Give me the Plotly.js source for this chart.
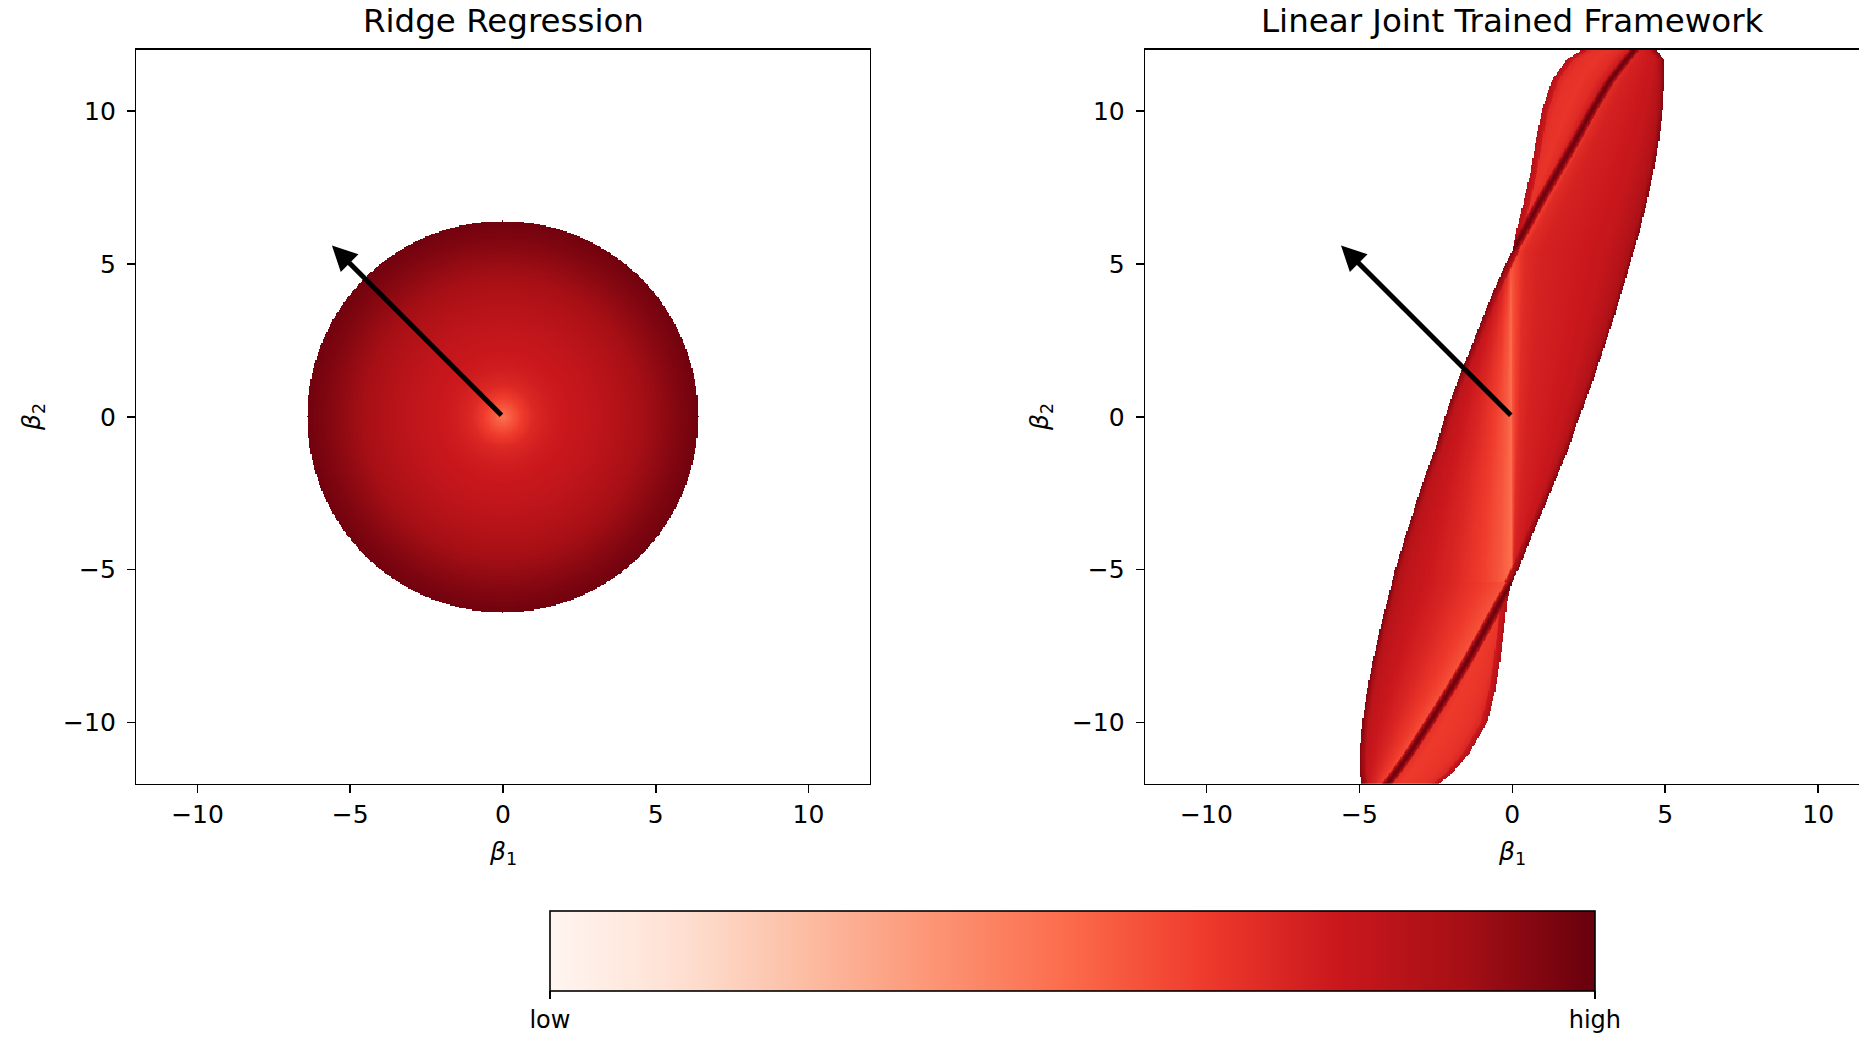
<!DOCTYPE html>
<html>
<head>
<meta charset="utf-8">
<script src="https://cdn.plot.ly/plotly-3.0.1.min.js"></script>
<style>
html, body { margin: 0; padding: 0; overflow: hidden; background: #ffffff; }
#chart { width: 1900px; height: 1037px; }
</style>
</head>
<body>
<div id="chart"></div>
<script>
// ---------------- data ----------------
const panelTitles = ["Ridge Regression", "Linear Joint Trained Framework"];
const axisRange = [-12, 12];
const tickVals = [-10, -5, 0, 5, 10];
const colorbarTickVals = [0, 1];
const colorbarTickText = ["low", "high"];

// matplotlib "Reds" colour map stops
const redsStops = [0, 0.125, 0.25, 0.375, 0.5, 0.625, 0.75, 0.875, 1];
const redsColors = ["#fff5f0", "#fee0d2", "#fcbba1", "#fc9272", "#fb6a4a", "#ef3b2c", "#cb181d", "#a50f15", "#67000d"];

// arrow (same in both panels): tail at origin, head tip
const arrowTail = [0, 0];
const arrowTip = [-5.6, 5.6];

// Ridge regression: disc radius and radial colour profile (level 0..1)
const ridgeRadius = 6.4;
const ridgeProfileR =     [0,    0.3,  0.6,  1.0,  1.5,  2.2,  3.0,  4.0,  5.0,  5.8,  6.4];
const ridgeProfileLevel = [0.48, 0.55, 0.62, 0.69, 0.73, 0.76, 0.79, 0.84, 0.90, 0.95, 0.98];

// Linear joint trained framework: outline rows
const bodyRowsY =  [-12, -11.7, -11, -10, -9, -8, -7, -6, -5.4, -5, -4, -3, -2, -1, 0, 1, 2, 3, 4, 5, 5.4, 6, 7, 8, 9, 10, 11, 11.7, 12];
const bodyLeftX =  [-4.92, -4.97, -4.99, -4.9, -4.75, -4.56, -4.33, -4.08, -3.93, -3.83, -3.52, -3.2, -2.88, -2.5, -2.2, -1.85, -1.45, -1.06, -0.66, -0.22, 0.0, 0.35, 0.9, 1.48, 2.05, 2.6, 3.2, 3.75, 4.0];
const bodyRightX = [-4.09, -3.85, -3.35, -2.7, -2.07, -1.47, -0.91, -0.36, 0.0, 0.2, 0.6, 1.03, 1.45, 1.86, 2.2, 2.58, 2.92, 3.25, 3.56, 3.86, 3.97, 4.15, 4.4, 4.62, 4.8, 4.92, 4.98, 4.96, 4.7];
const upperLobeY =     [5.4, 6, 7, 8, 9, 10, 11, 11.7, 12];
const upperLobeLeftX = [0.0, 0.12, 0.37, 0.6, 0.77, 0.97, 1.3, 1.8, 2.3];
const lowerLobeY =      [-12, -11.7, -11, -10, -9, -8, -7, -6, -5.4];
const lowerLobeRightX = [-2.4, -2.0, -1.4, -0.82, -0.56, -0.4, -0.27, -0.16, 0.0];
const creaseStartY = 5.4;   // creases start at (0, ±5.4)
const streakX = 0;          // bright streak along beta1 = 0

// colour level across each strip (u = 0 at strip's left side, 1 at right side)
const stripU =                 [0,    0.1,  0.25, 0.5,  0.75, 0.9,  1];
const levelBodyLeftOfStreak  = [0.86, 0.80, 0.76, 0.70, 0.62, 0.55, 0.48];
const levelBodyRightOfStreak = [0.56, 0.68, 0.72, 0.74, 0.77, 0.82, 0.88];
const levelUpperBody         = [0.56, 0.68, 0.72, 0.74, 0.77, 0.82, 0.88];
const levelUpperLobe         = [0.78, 0.70, 0.66, 0.65, 0.68, 0.74, 0.82];
const levelLowerBody         = [0.86, 0.80, 0.76, 0.70, 0.63, 0.58, 0.54];
const levelLowerLobe         = [0.80, 0.66, 0.63, 0.64, 0.66, 0.70, 0.76];
// darkening near outer edges and creases, by distance in beta units
const edgeDist =      [0, 0.08, 0.2, 0.4];
const edgeLevel =     [0.95, 0.90, 0.82, 0];
const lobeEdgeLevel = [0.84, 0.80, 0.74, 0];
const creaseDist =    [0, 0.07, 0.15, 0.35];
const creaseLevel =   [0.99, 0.95, 0.84, 0];

// ---------------- helpers ----------------
function lookup(xa, ya, v) {
  if (v <= xa[0]) return ya[0];
  for (let k = 1; k < xa.length; k++) {
    if (v <= xa[k]) {
      const t = (v - xa[k - 1]) / (xa[k] - xa[k - 1]);
      return ya[k - 1] + t * (ya[k] - ya[k - 1]);
    }
  }
  return ya[ya.length - 1];
}
function stripLevel(profile, x, a, b) {
  const w = b - a;
  const u = w > 1e-9 ? (x - a) / w : 0.5;
  return lookup(stripU, profile, u);
}

const gridN = 601;
const grid = [];
for (let i = 0; i < gridN; i++) grid.push(axisRange[0] + i * (axisRange[1] - axisRange[0]) / (gridN - 1));

// Ridge panel
const zRidge = grid.map(y => grid.map(x => {
  const r = Math.hypot(x, y);
  return r <= ridgeRadius ? lookup(ridgeProfileR, ridgeProfileLevel, r) : null;
}));

// Joint panel
const zJoint = grid.map(y => {
  const L = lookup(bodyRowsY, bodyLeftX, y);
  const R = lookup(bodyRowsY, bodyRightX, y);
  const upper = y > creaseStartY, lower = y < -creaseStartY;
  const lobeL = upper ? lookup(upperLobeY, upperLobeLeftX, y) : null;
  const lobeR = lower ? lookup(lowerLobeY, lowerLobeRightX, y) : null;
  return grid.map(x => {
    if (upper) {
      if (x >= lobeL && x < L) {
        const base = stripLevel(levelUpperLobe, x, lobeL, L);
        return Math.max(base, lookup(edgeDist, lobeEdgeLevel, x - lobeL), lookup(creaseDist, creaseLevel, L - x));
      }
      if (x >= L && x <= R) {
        const base = stripLevel(levelUpperBody, x, L, R);
        return Math.max(base, lookup(creaseDist, creaseLevel, x - L), lookup(edgeDist, edgeLevel, R - x));
      }
      return null;
    }
    if (lower) {
      if (x >= L && x <= R) {
        const base = stripLevel(levelLowerBody, x, L, R);
        return Math.max(base, lookup(edgeDist, edgeLevel, x - L), lookup(creaseDist, creaseLevel, R - x));
      }
      if (x > R && x <= lobeR) {
        const base = stripLevel(levelLowerLobe, x, R, lobeR);
        return Math.max(base, lookup(creaseDist, creaseLevel, x - R), lookup(edgeDist, lobeEdgeLevel, lobeR - x));
      }
      return null;
    }
    if (x >= L && x <= R) {
      const base = x < streakX ? stripLevel(levelBodyLeftOfStreak, x, L, streakX)
                               : stripLevel(levelBodyRightOfStreak, x, streakX, R);
      return Math.max(base, lookup(edgeDist, edgeLevel, x - L), lookup(edgeDist, edgeLevel, R - x));
    }
    return null;
  });
});

// ---------------- layout geometry ----------------
const W = 1900, H = 1037;
const px = v => v / W, py = v => 1 - v / H;
const xDom1 = [px(136.4), px(869.6)];
const xDom2 = [px(1145.3), px(1879.3)];
const yDom = [py(783.7), py(49.8)];

const colorscale = redsStops.map((s, i) => [s, redsColors[i]]);

const traces = [
  { type: 'heatmap', x: grid, y: grid, z: zRidge, coloraxis: 'coloraxis', zsmooth: false,
    hoverinfo: 'skip', xaxis: 'x', yaxis: 'y' },
  { type: 'heatmap', x: grid, y: grid, z: zJoint, coloraxis: 'coloraxis', zsmooth: false,
    hoverinfo: 'skip', xaxis: 'x2', yaxis: 'y2' }
];

function axis(domain, anchor, standoff) {
  return {
    domain: domain, anchor: anchor, range: axisRange.slice(),
    tickmode: 'array', tickvals: tickVals,
    ticks: 'outside', ticklen: 8, tickwidth: 1.6, tickcolor: '#000',
    ticklabelstandoff: standoff,
    showline: true, mirror: true, linecolor: '#000', linewidth: 1.6,
    showgrid: false, zeroline: false,
    tickfont: { family: 'DejaVu Sans', size: 25, color: '#000' }
  };
}

const annText = (text, x, y, size, extra) => Object.assign({
  text: text, xref: 'paper', yref: 'paper', x: x, y: y,
  xanchor: 'center', yanchor: 'middle', showarrow: false,
  font: { family: 'DejaVu Sans', size: size, color: '#000' }
}, extra || {});

const arrow = (xr, yr) => ({
  text: '', xref: xr, yref: yr, axref: xr, ayref: yr,
  x: arrowTip[0], y: arrowTip[1], ax: arrowTail[0], ay: arrowTail[1],
  showarrow: true, arrowhead: 2, arrowsize: 1, arrowwidth: 5, arrowcolor: '#000'
});

const layout = {
  width: W, height: H,
  margin: { l: 0, r: 0, t: 0, b: 0 },
  paper_bgcolor: '#fff', plot_bgcolor: '#fff',
  font: { family: 'DejaVu Sans', color: '#000', size: 24 },
  showlegend: false,
  xaxis: axis(xDom1, 'y', 0),
  yaxis: axis(yDom, 'x', 6),
  xaxis2: axis(xDom2, 'y2', 0),
  yaxis2: axis(yDom, 'x2', 6),
  coloraxis: {
    cmin: 0, cmax: 1, colorscale: colorscale,
    colorbar: {
      orientation: 'h', xref: 'paper', yref: 'paper',
      x: px(1072.4), xanchor: 'center', y: py(910.5), yanchor: 'top',
      lenmode: 'pixels', len: 1045, thicknessmode: 'pixels', thickness: 80,
      xpad: 0, ypad: 0,
      outlinewidth: 1.6, outlinecolor: '#000',
      tickmode: 'array', tickvals: colorbarTickVals, ticktext: colorbarTickText,
      ticks: 'outside', ticklen: 8, tickwidth: 1.6, tickcolor: '#000',
      tickfont: { family: 'DejaVu Sans', size: 24, color: '#000' }
    }
  },
  annotations: [
    annText(panelTitles[0], px(503), py(21), 32.5),
    annText(panelTitles[1], px(1512.3), py(21), 32.5),
    annText('<i>β</i><sub>1</sub>', px(503), py(853), 25),
    annText('<i>β</i><sub>1</sub>', px(1512.3), py(853), 25),
    annText('<i>β</i><sub>2</sub>', px(33), py(417), 25, { textangle: -90 }),
    annText('<i>β</i><sub>2</sub>', px(1041), py(417), 25, { textangle: -90 }),
    arrow('x', 'y'),
    arrow('x2', 'y2')
  ]
};

Plotly.newPlot('chart', traces, layout, { staticPlot: true, displayModeBar: false });
</script>
</body>
</html>
